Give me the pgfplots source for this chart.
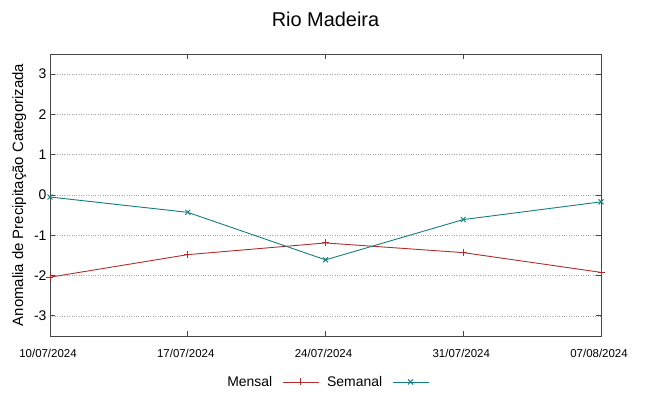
\documentclass[border=0pt]{standalone}
\usepackage{pgfplots}
\pgfplotsset{compat=1.18}
\usepackage{fontspec}
\setmainfont{Liberation Sans}
\definecolor{mensal}{RGB}{175,45,45}
\definecolor{semanal}{RGB}{20,125,125}
\definecolor{axgray}{RGB}{70,70,70}
\begin{document}
\begin{tikzpicture}[x=1bp,y=1bp]
\begin{axis}[
  width=551bp, height=282bp, scale only axis,
  xmin=0, xmax=4, ymin=-3.5, ymax=3.5,
  xtick={0,1,2,3,4},
  xticklabels={10/07/2024,17/07/2024,24/07/2024,31/07/2024,07/08/2024},
  ytick={-3,-2,-1,0,1,2,3},
  /pgf/number format/assume math mode=true,
  x tick label style={font=\fontsize{11.5}{13}\selectfont, yshift=-10bp, xshift=-2bp},
  y tick label style={font=\fontsize{14}{16}\selectfont},
  tick align=inside,
  major tick length=5bp,
  axis line style={axgray, line width=0.9pt},
  tick style={axgray, line width=0.9pt},
  ymajorgrids,
  grid style={gray!70, dotted, line width=0.6pt},
  ylabel={Anomalia de Precipitação Categorizada},
  ylabel style={font=\fontsize{15}{17}\selectfont, yshift=1bp},
  legend columns=2,
  legend plot pos=right,
  legend style={draw=none, fill=none, at={(0.503,-0.163)}, anchor=center,
    font=\fontsize{14}{16}\selectfont,
    /tikz/every even column/.append style={column sep=6bp},
    /tikz/every odd column/.append style={column sep=8bp}},
  legend image code/.code={\draw[mark repeat=2,mark phase=2] plot coordinates {(0bp,0bp)(18bp,0bp)(36bp,0bp)};},
]
\addplot[mensal, line width=0.9pt, mark=+, mark size=3.5bp] coordinates {
(0,-2.04) (1,-1.48) (2,-1.19) (3,-1.43) (4,-1.92)};
\addlegendentry{Mensal}
\addplot[semanal, line width=0.9pt, mark=x, mark size=3.5bp] coordinates {
(0,-0.05) (1,-0.43) (2,-1.61) (3,-0.61) (4,-0.17)};
\addlegendentry{Semanal}
\coordinate (bl) at (rel axis cs:0,0);
\coordinate (tc) at (rel axis cs:0.5,1);
\end{axis}
\path[use as bounding box] (bl) ++(-50,-60) rectangle ++(649,396);
\node[font=\fontsize{20}{24}\selectfont] at ([yshift=35bp]tc) {Rio Madeira};
\end{tikzpicture}
\end{document}
